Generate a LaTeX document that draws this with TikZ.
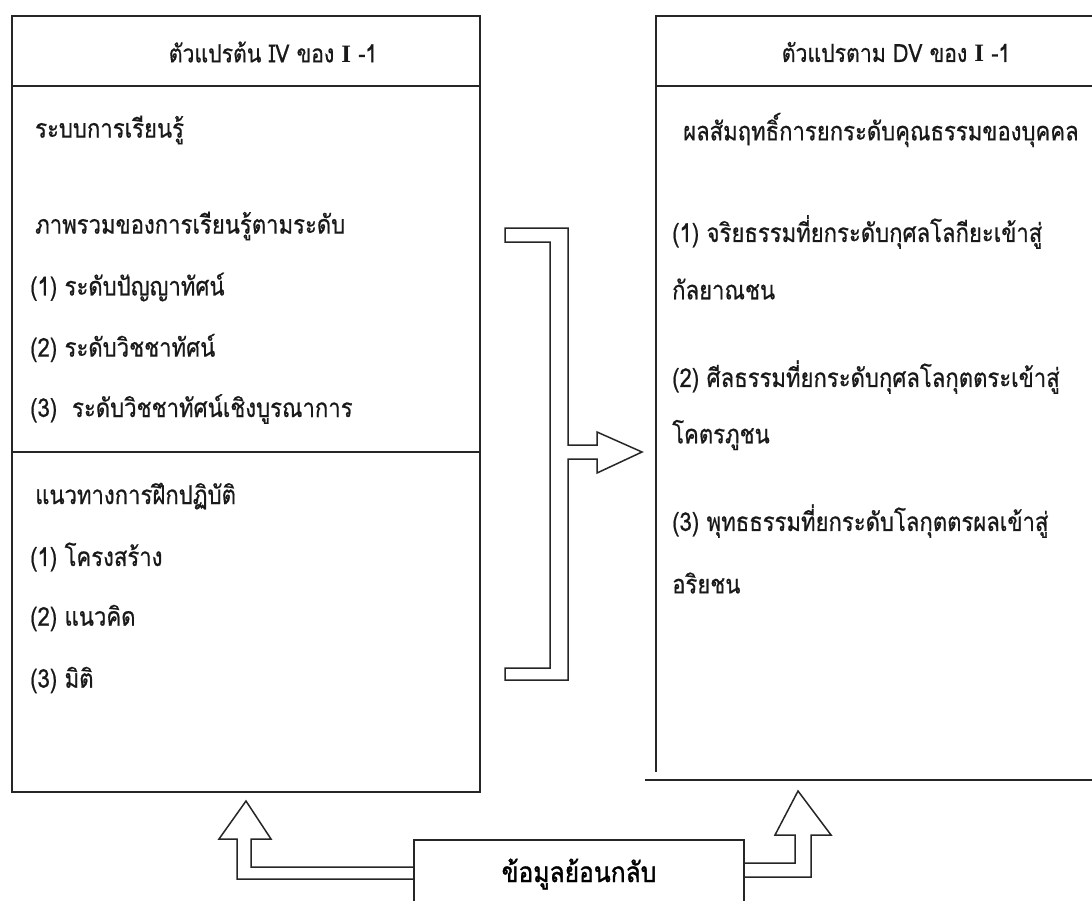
\documentclass[tikz,border=0pt]{standalone}
\usepackage{fontspec}
\newfontfamily\thai[Script=Thai,FakeStretch=0.85,FakeBold=0.6]{Loma}
\newfontfamily\thaibold[Script=Thai,FakeStretch=0.88,FakeBold=1.2]{Loma}
\newfontfamily\serifI{Liberation Serif}
\begin{document}
\begin{tikzpicture}[x=1pt,y=-1pt,
  frame/.style={draw=black!85,line width=1.6pt},
  blockarrow/.style={draw=black!85,line width=1.5pt,line join=miter},
  txt/.style={anchor=west,inner sep=0pt,font=\thai\fontsize{26}{30}\selectfont,text=black!90},
  head/.style={anchor=center,inner sep=0pt,font=\thai\fontsize{25}{30}\selectfont,text=black!90}]
\useasboundingbox (0,0) rectangle (1092,900);
\fill[white] (0,0) rectangle (1092,900);

% independent-variable box
\draw[frame] (12,16) rectangle (480,792);
\draw[frame] (12,86) -- (480,86);
\draw[frame] (12,452) -- (480,452);
\node[head] (ivh) at (273,52) {ตัวแปรต้น IV ของ {\serifI\bfseries I} -1};
\node[txt] (iv1) at (35,130) {ระบบการเรียนรู้};
\node[txt] (iv2) at (35,226) {ภาพรวมของการเรียนรู้ตามระดับ};
\node[txt] (iv3) at (30,287) {(1) ระดับปัญญาทัศน์};
\node[txt] (iv4) at (30,348) {(2) ระดับวิชชาทัศน์};
\node[txt] (iv5) at (30,409) {(3)\ \ ระดับวิชชาทัศน์เชิงบูรณาการ};
\node[txt] (iv6) at (35,496) {แนวทางการฝึกปฏิบัติ};
\node[txt] (iv7) at (30,557) {(1) โครงสร้าง};
\node[txt] (iv8) at (30,618) {(2) แนวคิด};
\node[txt] (iv9) at (30,680) {(3) มิติ};

% dependent-variable box (open to the right)
\draw[frame] (1092,16) -- (656,16) -- (656,772);
\draw[frame] (656,86) -- (1092,86);
\draw[frame] (645,780) -- (1092,780);
\node[head] (dvh) at (896,52) {ตัวแปรตาม DV ของ {\serifI\bfseries I} -1};
\node[txt] (dv1) at (683,130) {ผลสัมฤทธิ์การยกระดับคุณธรรมของบุคคล};
\node[txt] (dv2) at (672,232) {(1) จริยธรรมที่ยกระดับกุศลโลกียะเข้าสู่};
\node[txt] (dv3) at (672,289) {กัลยาณชน};
\node[txt] (dv4) at (672,377) {(2) ศีลธรรมที่ยกระดับกุศลโลกุตตระเข้าสู่};
\node[txt] (dv5) at (672,435) {โคตรภูชน};
\node[txt] (dv6) at (672,521) {(3) พุทธธรรมที่ยกระดับโลกุตตรผลเข้าสู่};
\node[txt] (dv7) at (672,583) {อริยชน};

% bracket arrow joining the two boxes
\draw[blockarrow] (505,228) -- (568,228) -- (568,445) -- (597,445) -- (597,432)
  -- (642,452) -- (597,473) -- (597,459) -- (568,459) -- (568,680) -- (505,680)
  -- (505,668) -- (550,668) -- (550,242) -- (505,242) -- cycle;

% feedback box
\draw[frame] (414,905) -- (414,840) -- (744,840) -- (744,905);
\node[anchor=center,inner sep=0pt,font=\thaibold\fontsize{28}{32}\selectfont,text=black] (fb) at (579,874) {ข้อมูลย้อนกลับ};

% feedback arrow to the left box
\draw[blockarrow] (414,867) -- (251,867) -- (251,839) -- (271,839) -- (246,801)
  -- (219,839) -- (237,839) -- (237,879) -- (414,879);
% feedback arrow to the right box
\draw[blockarrow] (744,863) -- (795,863) -- (795,835) -- (775,835) -- (798,791)
  -- (831,835) -- (811,835) -- (811,877) -- (744,877);
\end{tikzpicture}
\end{document}
